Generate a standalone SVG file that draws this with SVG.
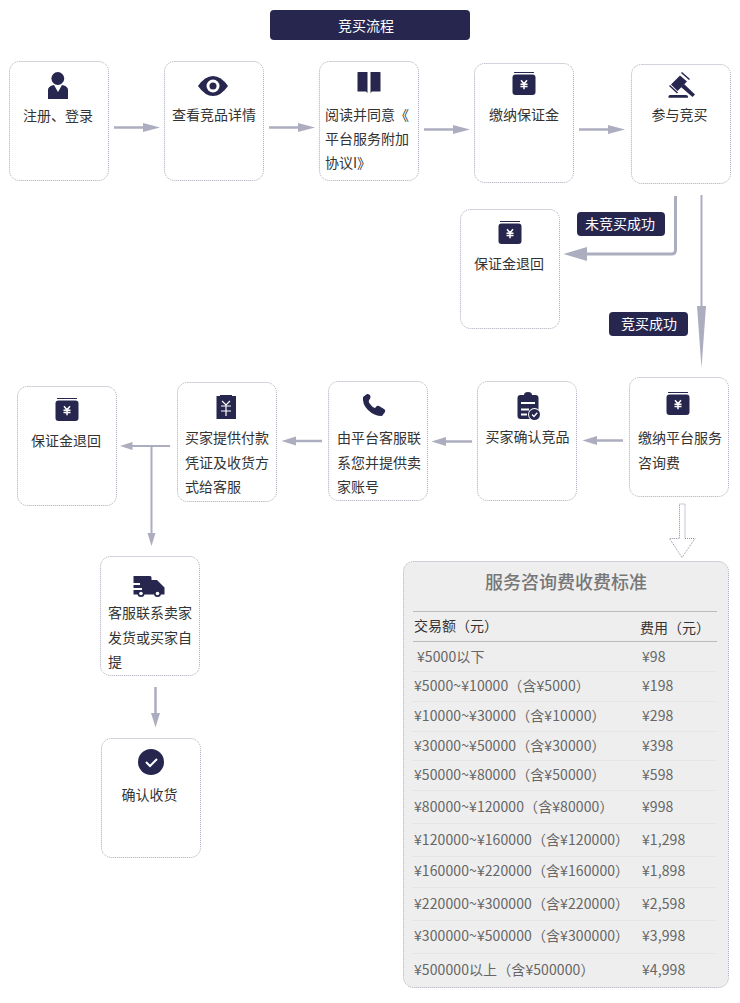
<svg xmlns="http://www.w3.org/2000/svg" width="740" height="1003" viewBox="0 0 740 1003">
<style>
text{font-family:"Noto Sans CJK SC","Noto Sans",sans-serif;font-size:14px;fill:#333}
.box{fill:#fff;stroke:#a9a9bb;stroke-width:1;stroke-dasharray:1 1}
.ln{fill:none;stroke:#adadc0;stroke-width:2.5}
.hd{fill:#adadc0}
.ic{fill:#27264f}
.w{fill:#fff}
.lb{fill:#27264f}
.lt{fill:#fff}
.t{fill:#666;letter-spacing:.09px}
.h{fill:#333}
.rule{stroke:#bbb;stroke-width:1}
.sep{stroke:#ddd;stroke-width:1;stroke-dasharray:1 1}
</style>
<defs>
<g id="yen">
<rect class="ic" x="-10" y="-12.500" width="20" height="1"/>
<rect class="ic" x="-11.500" y="-10" width="23" height="20.500" rx="3"/>
<path d="M-3 -4.200L0 -0.700L3 -4.200M-3.500 -0.200H3.500M-3.500 2H3.500M0 -0.700V4.800" fill="none" stroke="#fff" stroke-width="1.500"/>
</g>
</defs>
<g id="title"><rect class="lb" x="270" y="10" width="200" height="30" rx="4"/><text class="lt" x="366" y="31" text-anchor="middle">竞买流程</text></g>
<g id="connectors">
<path class="ln" d="M114 127.500H145"/><path class="hd" d="M143 123L160 127.500L143 132z"/>
<path class="ln" d="M269 127.500H300"/><path class="hd" d="M298 123L315 127.500L298 132z"/>
<path class="ln" d="M424 129.500H455"/><path class="hd" d="M453 125L470 129.500L453 134z"/>
<path class="ln" d="M579 129.500H610"/><path class="hd" d="M608 125L625 129.500L608 134z"/>
<path class="ln" style="stroke-width:3" d="M675.500 196V250Q675.500 254 671.500 254H585"/><path class="hd" d="M587 247L563.500 254L587 261z"/>
<path class="ln" style="stroke-width:2" d="M701.500 195V310"/><path class="hd" d="M697 306H706L701.500 368z"/>
<path class="ln" d="M623 440.500H595"/><path class="hd" d="M597 436L582.500 440.500L597 445z"/>
<path class="ln" d="M472 441.500H444"/><path class="hd" d="M446 437L431.500 441.500L446 446z"/>
<path class="ln" d="M322 441H294"/><path class="hd" d="M296 436.500L281.500 441L296 445.500z"/>
<path class="ln" style="stroke-width:2" d="M170 446H130"/><path class="hd" d="M132.500 442L120 446L132.500 450z"/>
<path class="ln" style="stroke-width:2" d="M151.500 446V535"/><path class="hd" d="M147.500 533H155.500L151.500 546z"/>
<path class="ln" d="M155.500 687V715"/><path class="hd" d="M151 713H160L155.500 727.500z"/>
<path d="M679.500 504H685V538.500H695L682 557.500L669.500 538.500H679.500z" fill="#fff" stroke="#8e8ea6" stroke-width="1" stroke-dasharray="1 1"/>
</g>
<g id="label-fail"><rect class="lb" x="577" y="212" width="88" height="24" rx="4"/><text class="lt" x="620" y="229" text-anchor="middle">未竞买成功</text></g>
<g id="label-success"><rect class="lb" x="609" y="312" width="79" height="24" rx="4"/><text class="lt" x="649" y="329" text-anchor="middle">竞买成功</text></g>

<g id="n-register"><rect class="box" x="9.500" y="61.500" width="99" height="119" rx="10"/>
<circle class="ic" cx="57.800" cy="78.500" r="6.400"/><path class="ic" d="M48 99V90Q48 87 52 85.500L54 85L58 92L62 85L64 85.500Q68 87 68 90V99z"/>
<text x="58" y="121" text-anchor="middle">注册、登录</text></g>

<g id="n-detail"><rect class="box" x="164.500" y="61.500" width="99" height="119" rx="10"/>
<path class="ic" d="M198 86Q205 76 213 76Q221 76 228 86Q221 96 213 96Q205 96 198 86z"/><circle class="w" cx="213" cy="86" r="6.500"/><circle class="ic" cx="213" cy="86" r="3.500"/>
<text x="214" y="120" text-anchor="middle">查看竞品详情</text></g>

<g id="n-read"><rect class="box" x="319.500" y="61.500" width="99" height="119" rx="10"/>
<path class="ic" d="M358 72H367.500V93L366 91.500H357.500V72.500zM380 72H370.500V93L372 91.500H380.500V72.500z"/>
<text x="325" y="120">阅读并同意《</text><text x="325" y="144">平台服务附加</text><text x="325" y="168">协议I》</text></g>

<g id="n-deposit"><rect class="box" x="474.500" y="63.500" width="99" height="119" rx="10"/>
<use href="#yen" x="524" y="84.500"/>
<text x="524" y="120" text-anchor="middle">缴纳保证金</text></g>

<g id="n-bid"><rect class="box" x="631.500" y="64.500" width="99" height="119" rx="10"/>
<path class="ic" d="M668.500 97.800V96.500Q668.500 95 670 95H686Q688 95 688 96.500V97.800z"/>
<path class="ic" d="M680 75.500L687 81.500L677.500 91L671 84.500z"/>
<path class="ic" d="M681 87L684 84L695 94.500L692.500 97z"/>
<path d="M681.500 72.500L689.500 79.500M669.500 85.500L677.500 93" stroke="#27264f" stroke-width="1.500" fill="none"/>
<text x="679.500" y="120" text-anchor="middle">参与竞买</text></g>

<g id="n-refund1"><rect class="box" x="460.500" y="209.500" width="99" height="119" rx="10"/>
<use href="#yen" x="510" y="233.500"/>
<text x="509" y="269" text-anchor="middle">保证金退回</text></g>

<g id="n-service"><rect class="box" x="629.500" y="377.500" width="99" height="119" rx="10"/>
<use href="#yen" x="678" y="404.500"/>
<text x="638" y="443">缴纳平台服务</text><text x="638" y="468">咨询费</text></g>

<g id="n-confirm"><rect class="box" x="477.500" y="381.500" width="99" height="119" rx="10"/>
<path class="ic" d="M520.500 395H524Q524 392 528 392Q532 392 532 395H535.500Q538.500 395 538.500 398V419H520.500Q517.500 419 517.500 416V398Q517.500 395 520.500 395z"/>
<path d="M521 403H535M521 409.500H529M521 414.500H527" stroke="#fff" stroke-width="1.800" fill="none"/><circle class="w" cx="534.500" cy="414.500" r="6.500"/><circle class="ic" cx="534.500" cy="414.500" r="5.500"/><path d="M532 414.500L534 416.500L537.200 412.800" stroke="#fff" stroke-width="1.300" fill="none"/>
<text x="527.500" y="442" text-anchor="middle">买家确认竞品</text></g>

<g id="n-phone"><rect class="box" x="328.500" y="381.500" width="99" height="119" rx="10"/>
<path class="ic" d="M367 394L363 397Q362 404 368 410Q374 416 382 416L385 412Q386 410 384 409L379 406Q377 405 376 407L375 408Q372 407 370 404Q368 402 369 400L370 399Q371 397 370 395L368 394z"/>
<text x="337" y="443">由平台客服联</text><text x="337" y="468">系您并提供卖</text><text x="337" y="492">家账号</text></g>

<g id="n-proof"><rect class="box" x="177.500" y="382.500" width="99" height="119" rx="10"/>
<path class="ic" d="M216.500 396H220V395H232V396H236V419H216.500z"/>
<path d="M222 401L226 405L230 401M221 406H231M221 411H231M226 405V416" fill="none" stroke="#fff" stroke-width="1.200"/>
<text x="185" y="443">买家提供付款</text><text x="185" y="468">凭证及收货方</text><text x="185" y="492">式给客服</text></g>

<g id="n-refund2"><rect class="box" x="17.500" y="386.500" width="99" height="119" rx="10"/>
<use href="#yen" x="67" y="410.500"/>
<text x="66" y="446" text-anchor="middle">保证金退回</text></g>

<g id="n-ship"><rect class="box" x="100.500" y="556.500" width="99" height="119" rx="10"/>
<path class="ic" d="M133.500 576H150Q151.500 576 151.500 577.500V580H157L164.500 587.500V594.500H133.500V590H142V588H133.500V585H140V583H133.500z"/><circle class="ic" cx="141" cy="593.500" r="3.500"/><circle class="ic" cx="157.500" cy="593.500" r="3.500"/><circle class="w" cx="141" cy="593.500" r="1.800"/><circle class="w" cx="157.500" cy="593.500" r="1.800"/>
<text x="108" y="618">客服联系卖家</text><text x="108" y="643">发货或买家自</text><text x="108" y="667">提</text></g>

<g id="n-done"><rect class="box" x="101.500" y="738.500" width="99" height="119" rx="10"/>
<circle class="ic" cx="151" cy="762" r="13"/><path d="M146 762L150 766L157 759" fill="none" stroke="#fff" stroke-width="2"/>
<text x="149.500" y="800" text-anchor="middle">确认收货</text></g>

<g id="n-table"><rect class="box" style="fill:#eee" x="403.500" y="561.500" width="325" height="426" rx="10"/>
<text x="566" y="589" text-anchor="middle" style="font-size:18px;font-weight:500;fill:#777">服务咨询费收费标准</text>
<path class="rule" d="M413 611.500H717M413 641.500H717"/>
<path class="sep" d="M413 671.500H717M413 701.500H717M413 731.500H717M413 760.500H717M413 790.500H717M413 823.500H717M413 856.500H717M413 887.500H717M413 920.500H717M413 953.500H717"/>
<text class="h" x="414" y="631">交易额（元）</text><text class="h" x="640" y="633">费用（元）</text>
<g>
<text class="t" x="417" y="662">¥5000以下</text><text class="t" x="642" y="662">¥98</text>
<text class="t" x="414" y="691">¥5000~¥10000（含¥5000）</text><text class="t" x="642" y="691">¥198</text>
<text class="t" x="414" y="721">¥10000~¥30000（含¥10000）</text><text class="t" x="642" y="721">¥298</text>
<text class="t" x="414" y="751">¥30000~¥50000（含¥30000）</text><text class="t" x="642" y="751">¥398</text>
<text class="t" x="414" y="780">¥50000~¥80000（含¥50000）</text><text class="t" x="642" y="780">¥598</text>
<text class="t" x="414" y="812">¥80000~¥120000（含¥80000）</text><text class="t" x="642" y="812">¥998</text>
<text class="t" x="414" y="845">¥120000~¥160000（含¥120000）</text><text class="t" x="642" y="845">¥1,298</text>
<text class="t" x="414" y="876">¥160000~¥220000（含¥160000）</text><text class="t" x="642" y="876">¥1,898</text>
<text class="t" x="414" y="909">¥220000~¥300000（含¥220000）</text><text class="t" x="642" y="909">¥2,598</text>
<text class="t" x="414" y="941">¥300000~¥500000（含¥300000）</text><text class="t" x="642" y="941">¥3,998</text>
<text class="t" x="414" y="975">¥500000以上（含¥500000）</text><text class="t" x="642" y="975">¥4,998</text>
</g></g>
</svg>
